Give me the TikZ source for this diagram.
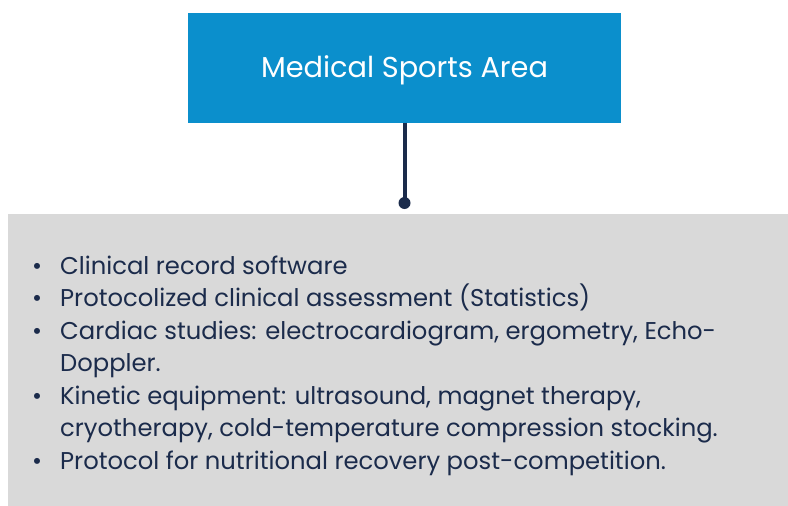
\documentclass[tikz,border=0pt]{standalone}
\usepackage{fontspec}
\setmainfont{Poppins}
\definecolor{topblue}{HTML}{0B8FCC}
\definecolor{panelgray}{HTML}{D9D9D9}
\definecolor{navy}{HTML}{1B2B4B}
\newlength\measw
\AtBeginDocument{%
  \settowidth\measw{\fontsize{10}{12}\selectfont Protocolized clinical assessment (Statistics)}%
  \pgfmathsetmacro\itemsize{10*530/\measw}%
  \xdef\itemsize{\itemsize}%
  \settowidth\measw{\fontsize{10}{12}\selectfont Medical Sports Area}%
  \pgfmathsetmacro\titlesize{10*287/\measw}%
  \xdef\titlesize{\titlesize}}
\begin{document}
\begin{tikzpicture}[x=1pt,y=-1pt,
  itemline/.style={anchor=base west, inner sep=0pt, text=navy, font=\fontsize{\itemsize}{\itemsize}\selectfont},
  bulletmark/.style={anchor=base, inner sep=0pt, text=navy, font=\fontsize{\itemsize}{\itemsize}\selectfont}]
\useasboundingbox (0,0) rectangle (788,506);
\fill[white] (0,0) rectangle (788,506);
\node[fill=topblue, minimum width=433pt, minimum height=110pt, inner sep=0pt, text=white, text height=20pt, text depth=0pt, font=\fontsize{\titlesize}{\titlesize}\selectfont] (title) at (404.5,67.5) {Medical Sports Area};
\node[fill=panelgray, minimum width=780pt, minimum height=292pt, inner sep=0pt, anchor=north west] (panel) at (8,214) {};
\coordinate (dot) at (404.5,203);
\draw[navy, line width=4pt] (title.south -| dot) -- (dot);
\fill[navy] (dot) circle (6pt);
\node[itemline] (l1) at (60,274) {Clinical record software};
\node[itemline] (l2) at (60,306.5) {Protocolized clinical assessment (Statistics)};
\node[itemline] (l3) at (60,339) {Cardiac studies: electrocardiogram, ergometry, Echo-};
\node[itemline] (l4) at (60,371.5) {Doppler.};
\node[itemline] (l5) at (60,404) {Kinetic equipment: ultrasound, magnet therapy,};
\node[itemline] (l6) at (60,436.5) {cryotherapy, cold-temperature compression stocking.};
\node[itemline] (l7) at (60,469) {Protocol for nutritional recovery post-competition.};
\node[bulletmark] (b1) at (37,274) {\textbullet};
\node[bulletmark] (b2) at (37,306.5) {\textbullet};
\node[bulletmark] (b3) at (37,339) {\textbullet};
\node[bulletmark] (b5) at (37,404) {\textbullet};
\node[bulletmark] (b7) at (37,469) {\textbullet};
\end{tikzpicture}
\end{document}
